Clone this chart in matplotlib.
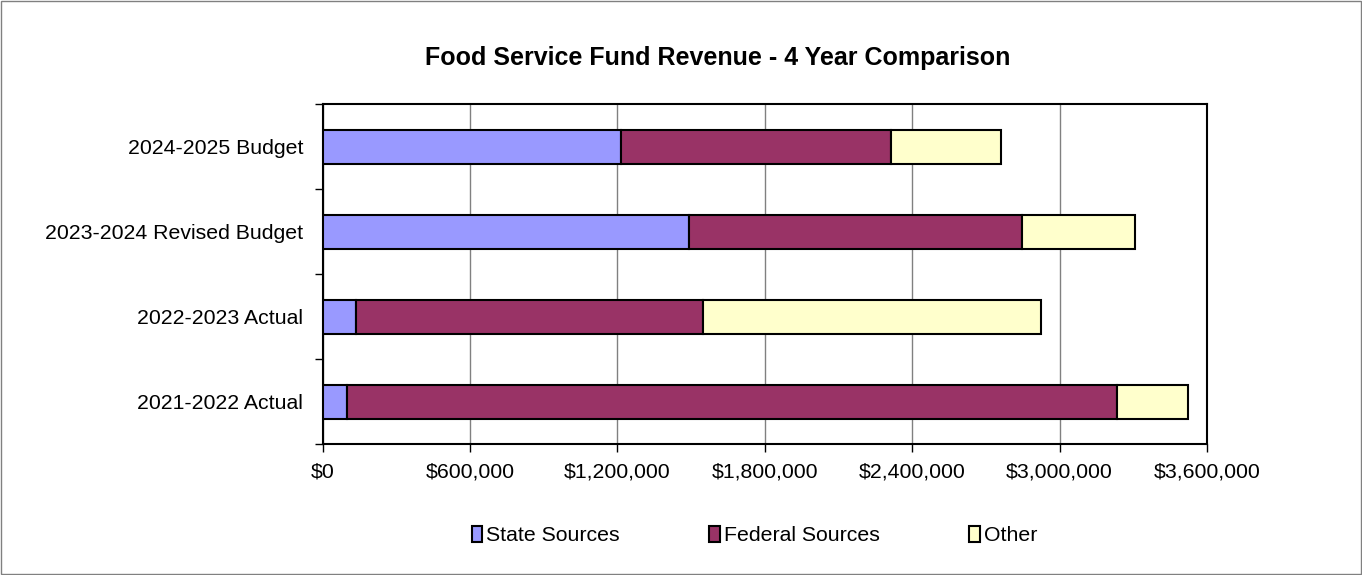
import matplotlib.pyplot as plt
from matplotlib.ticker import FuncFormatter

plt.rcParams['font.family'] = ['Liberation Sans', 'DejaVu Sans']

years = ['2021-2022 Actual', '2022-2023 Actual', '2023-2024 Revised Budget', '2024-2025 Budget']
state = [99000, 135000, 1491000, 1216000]
federal = [3133000, 1413000, 1354000, 1098000]
other = [291000, 1377000, 460000, 449000]

series = [('State Sources', state, '#9999FF'),
          ('Federal Sources', federal, '#993366'),
          ('Other', other, '#FFFFCC')]

fig = plt.figure(figsize=(13.62, 5.75), dpi=100)
fig.patches.append(plt.Rectangle((0.0005, 0.001), 0.999, 0.998, transform=fig.transFigure,
                                 fill=False, edgecolor='#808080', linewidth=1))
ax = fig.add_axes([0.2369, 0.2278, 0.6493, 0.5913])

left = [0] * len(years)
ypos = list(range(len(years)))
for name, vals, color in series:
    ax.barh(ypos, vals, left=left, height=0.4, color=color, edgecolor='black',
            linewidth=1.5, label=name, zorder=3)
    left = [a + b for a, b in zip(left, vals)]

ax.set_xlim(0, 3600000)
ax.set_ylim(-0.5, len(years) - 0.5)
ax.set_xticks(range(0, 3600001, 600000))
ax.xaxis.set_major_formatter(FuncFormatter(lambda v, p: '${:,.0f}'.format(v)))
ax.set_yticks(ypos)
ax.set_yticklabels(years)
ax.set_yticks([i + 0.5 for i in range(-1, len(years))], minor=True)
ax.tick_params(axis='y', which='major', length=0, pad=14, labelsize=15.3)
ax.tick_params(axis='y', which='minor', length=6, width=1)
ax.tick_params(axis='x', length=6, width=1, labelsize=15.3, pad=7)
ax.grid(axis='x', color='#808080', linewidth=1, zorder=0)
for s in ax.spines.values():
    s.set_linewidth(1.5)

fig.text(0.527, 0.9, 'Food Service Fund Revenue - 4 Year Comparison', fontsize=18,
         fontweight='bold', ha='center', va='center')

handles, labels = ax.get_legend_handles_labels()
fig.legend(handles, labels, loc='center', bbox_to_anchor=(0.554, 0.068), ncol=3,
           frameon=False, fontsize=15.3, handlelength=0.5, handleheight=0.75,
           handletextpad=0.2, columnspacing=4.2)

fig.savefig('out.png', dpi=100)
